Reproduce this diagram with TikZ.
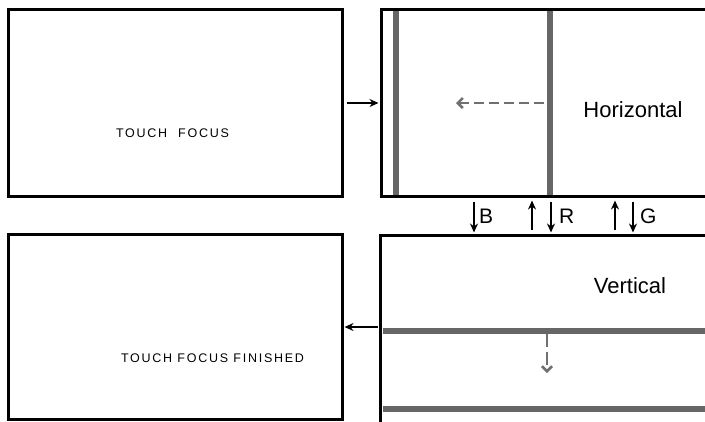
\documentclass[tikz,border=0pt]{standalone}
\usepackage{fontspec}
\setmainfont{Liberation Sans}
\newfontfamily\spacedfont[LetterSpace=14]{Liberation Sans}
\usetikzlibrary{arrows.meta}
\definecolor{barcol}{HTML}{666666}
\definecolor{dashcol}{HTML}{707070}
\tikzset{
  frame/.style={draw=black, line width=3pt, rectangle, inner sep=0pt},
  arr/.style={-{Stealth[length=9pt,width=8pt]}, line width=2.3pt, black},
  garr/.style={-{Straight Barb[length=5pt,width=10pt]}, line width=2.6pt, dashcol, dash pattern=on 10pt off 5pt},
  bar/.style={barcol, line width=6pt},
  small/.style={font=\spacedfont\fontsize{12.5}{14}\selectfont, inner sep=0pt},
  big/.style={font=\fontsize{22}{26}\selectfont, inner sep=0pt},
}
\begin{document}
\begin{tikzpicture}[x=1pt,y=-1pt]
\useasboundingbox (0,0) rectangle (705,421);
\clip (0,0) rectangle (705,421);
% boxes
\node[frame, minimum width=334pt, minimum height=187pt] (tf) at (175,102.5) {};
\node[frame, minimum width=344pt, minimum height=187pt] (hz) at (553,102.5) {};
\node[frame, minimum width=334pt, minimum height=185pt] (fin) at (175,326.5) {};
\node[frame, minimum width=344pt, minimum height=205pt] (vt) at (552,337.5) {};
% gray bars
\draw[bar] (396,10.5) -- (396,194.5);
\draw[bar] (549.5,10.5) -- (549.5,194.5);
\draw[bar] (382.5,331) -- (705,331);
\draw[bar] (382.5,408.5) -- (705,408.5);
% dashed moves
\coordinate (hs) at (544,103);
\coordinate (he) at (456,103);
\draw[garr] (hs) -- (he);
\coordinate (vs) at (547,334);
\coordinate (ve) at (547,373);
\draw[garr, dash pattern=on 13pt off 5pt] (vs) -- (ve);
% texts
\node[small, anchor=base] (t1) at (172.5,137) {TOUCH\hspace{11pt}FOCUS};
\node[small, anchor=base] (t2) at (212.5,362) {TOUCH FOCUS FINISHED};
\node[big, anchor=base] (th) at (633,117) {Horizontal};
\node[big, anchor=base] (tv) at (630,293) {Vertical};
% connectors
\draw[arr, shorten <=3pt, shorten >=1pt] (tf.east |- 0,103) -- (hz.west |- 0,103);
\draw[arr, shorten <=1pt, shorten >=1pt] (vt.west |- 0,327) -- (fin.east |- 0,327);
\draw[arr, shorten <=4pt, shorten >=1pt] (hz.south -| 474,0) -- (vt.north -| 474,0);
\draw[arr, shorten <=4pt, shorten >=3pt] (vt.north -| 532,0) -- (hz.south -| 532,0);
\draw[arr, shorten <=4pt, shorten >=1pt] (hz.south -| 551,0) -- (vt.north -| 551,0);
\draw[arr, shorten <=4pt, shorten >=3pt] (vt.north -| 615,0) -- (hz.south -| 615,0);
\draw[arr, shorten <=4pt, shorten >=1pt] (hz.south -| 633,0) -- (vt.north -| 633,0);
\node[big, anchor=base west, font=\fontsize{21}{24}\selectfont] (lb) at (479,223) {B};
\node[big, anchor=base west, font=\fontsize{21}{24}\selectfont] (lr) at (559,223) {R};
\node[big, anchor=base west, font=\fontsize{21}{24}\selectfont] (lg) at (640,223) {G};
\end{tikzpicture}
\end{document}
